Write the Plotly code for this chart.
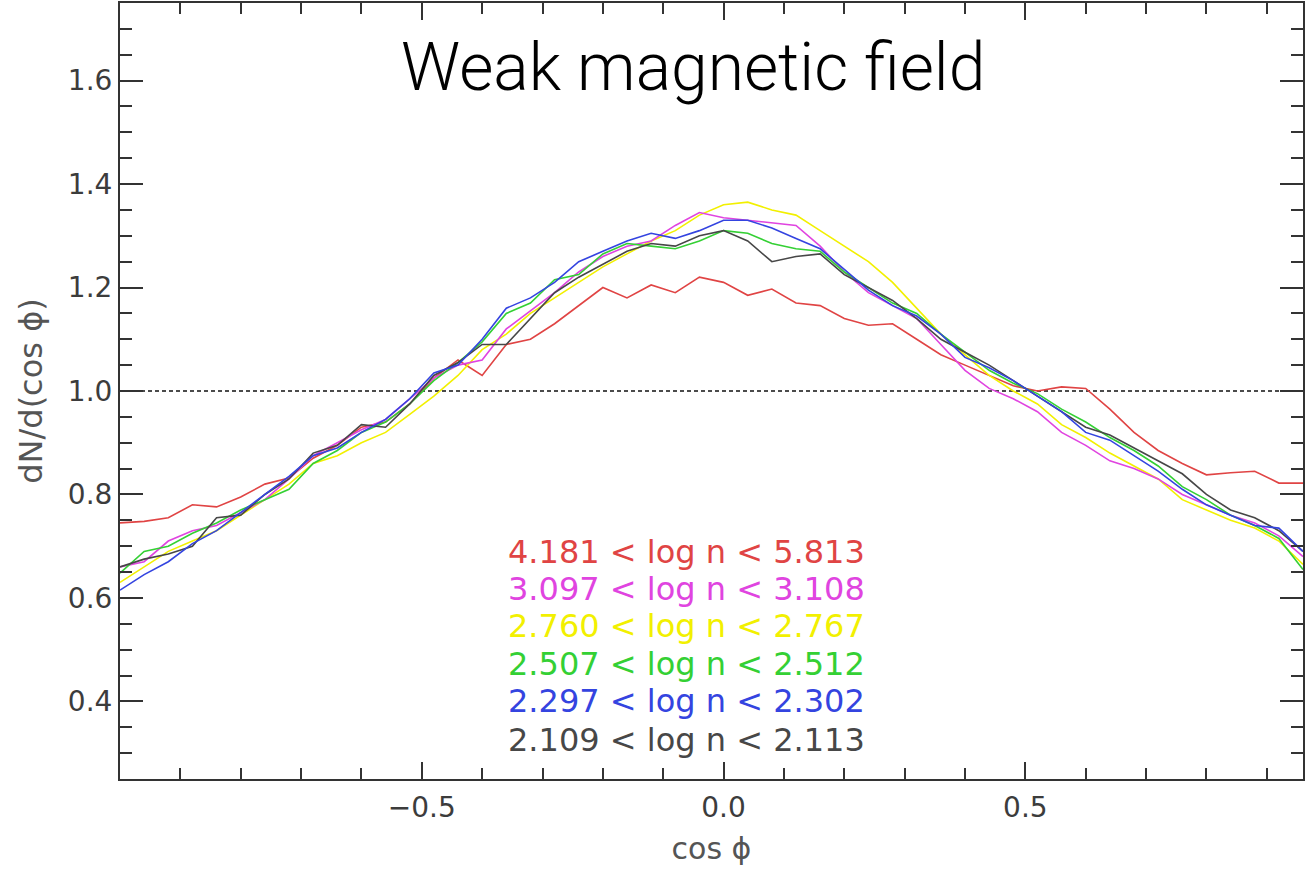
import plotly.graph_objects as go

# bin positions (cos phi)
cos_phi = [round(-1.00 + 0.04 * i, 2) for i in range(50)]

red_4181 = [0.745, 0.748, 0.755, 0.780, 0.776, 0.795, 0.820, 0.832, 0.870, 0.895,
            0.930, 0.940, 0.975, 1.025, 1.060, 1.030, 1.090, 1.100, 1.130, 1.165,
            1.200, 1.180, 1.205, 1.190, 1.220, 1.210, 1.185, 1.197, 1.170, 1.165,
            1.140, 1.127, 1.130, 1.100, 1.070, 1.050, 1.030, 1.010, 1.000, 1.008,
            1.005, 0.965, 0.920, 0.885, 0.860, 0.838, 0.842, 0.845, 0.822, 0.822]

magenta_3097 = [0.660, 0.670, 0.710, 0.730, 0.740, 0.765, 0.790, 0.830, 0.875, 0.900,
                0.925, 0.945, 0.985, 1.025, 1.050, 1.060, 1.120, 1.155, 1.190, 1.230,
                1.260, 1.280, 1.290, 1.320, 1.345, 1.335, 1.330, 1.325, 1.320, 1.280,
                1.230, 1.190, 1.165, 1.140, 1.090, 1.040, 1.005, 0.985, 0.960, 0.920,
                0.895, 0.865, 0.850, 0.830, 0.800, 0.780, 0.760, 0.745, 0.720, 0.680]

yellow_2760 = [0.630, 0.660, 0.690, 0.710, 0.730, 0.760, 0.790, 0.820, 0.860, 0.875,
               0.900, 0.920, 0.955, 0.990, 1.030, 1.080, 1.110, 1.150, 1.180, 1.210,
               1.240, 1.265, 1.290, 1.310, 1.340, 1.360, 1.365, 1.350, 1.340, 1.310,
               1.280, 1.250, 1.210, 1.160, 1.110, 1.070, 1.030, 1.000, 0.975, 0.935,
               0.910, 0.880, 0.855, 0.830, 0.790, 0.770, 0.750, 0.735, 0.710, 0.665]

green_2507 = [0.648, 0.690, 0.700, 0.725, 0.745, 0.770, 0.790, 0.810, 0.860, 0.885,
              0.920, 0.940, 0.975, 1.020, 1.055, 1.095, 1.150, 1.170, 1.215, 1.225,
              1.265, 1.285, 1.280, 1.275, 1.290, 1.310, 1.305, 1.285, 1.275, 1.270,
              1.230, 1.200, 1.170, 1.150, 1.110, 1.075, 1.040, 1.015, 0.995, 0.965,
              0.940, 0.910, 0.885, 0.855, 0.815, 0.790, 0.760, 0.740, 0.715, 0.655]

blue_2297 = [0.615, 0.645, 0.670, 0.705, 0.730, 0.765, 0.800, 0.835, 0.875, 0.890,
             0.920, 0.945, 0.985, 1.035, 1.050, 1.100, 1.160, 1.180, 1.210, 1.250,
             1.270, 1.290, 1.305, 1.295, 1.310, 1.330, 1.330, 1.315, 1.295, 1.275,
             1.235, 1.195, 1.165, 1.145, 1.110, 1.065, 1.045, 1.020, 0.990, 0.960,
             0.920, 0.905, 0.875, 0.845, 0.810, 0.780, 0.760, 0.740, 0.735, 0.690]

dark_2109 = [0.660, 0.675, 0.685, 0.700, 0.755, 0.760, 0.800, 0.830, 0.880, 0.895,
             0.935, 0.930, 0.975, 1.030, 1.055, 1.090, 1.090, 1.140, 1.190, 1.220,
             1.245, 1.270, 1.285, 1.280, 1.300, 1.310, 1.290, 1.250, 1.260, 1.265,
             1.225, 1.200, 1.175, 1.140, 1.100, 1.075, 1.050, 1.020, 0.990, 0.960,
             0.930, 0.915, 0.890, 0.865, 0.840, 0.800, 0.770, 0.755, 0.730, 0.690]

series_labels = ["4.181 &lt; log n &lt; 5.813",
                 "3.097 &lt; log n &lt; 3.108",
                 "2.760 &lt; log n &lt; 2.767",
                 "2.507 &lt; log n &lt; 2.512",
                 "2.297 &lt; log n &lt; 2.302",
                 "2.109 &lt; log n &lt; 2.113"]
series_values = [red_4181, magenta_3097, yellow_2760, green_2507, blue_2297, dark_2109]
series_colors = ["#e04444", "#e044e0", "#f2f000", "#34d034", "#3444e0", "#474747"]
label_y = [0.689, 0.617, 0.545, 0.472, 0.400, 0.326]

x_tickvals = [-0.5, 0.0, 0.5]
x_ticktext = ["\u22120.5", "0.0", "0.5"]
y_tickvals = [0.4, 0.6, 0.8, 1.0, 1.2, 1.4, 1.6]
y_ticktext = ["0.4", "0.6", "0.8", "1.0", "1.2", "1.4", "1.6"]

title_text = "Weak magnetic field"
x_title = "cos ϕ"
y_title = "dN/d(cos ϕ)"
ref_level = 1.0

FONT = "DejaVu Sans, Verdana, sans-serif"

fig = go.Figure()

fig.add_shape(type="line", xref="x", yref="y", x0=cos_phi[0], x1=0.96,
              y0=ref_level, y1=ref_level,
              line=dict(color="#111111", width=1.5, dash="4px,3px"), layer="below")

draw_order = [0, 2, 1, 3, 5, 4]
for i in draw_order:
    fig.add_trace(go.Scatter(x=cos_phi, y=series_values[i], mode="lines",
                             line=dict(color=series_colors[i], width=1.6),
                             showlegend=False, hoverinfo="skip"))

for lab, col, ly in zip(series_labels, series_colors, label_y):
    fig.add_annotation(x=-0.061, y=ly, xref="x", yref="y", text=lab, showarrow=False,
                       font=dict(family=FONT, size=32, color=col),
                       xanchor="center", yanchor="middle")

fig.add_annotation(x=-0.05, y=1.625, xref="x", yref="y", text=title_text, showarrow=False,
                   font=dict(family="Roboto, sans-serif", size=66, color="#000000", weight=300),
                   xanchor="center", yanchor="middle")

axis_common = dict(showline=True, linecolor="#333333", linewidth=2, mirror="ticks",
                   ticks="inside", tickcolor="#333333", tickwidth=2,
                   showgrid=False, zeroline=False, automargin=False,
                   tickfont=dict(family=FONT, size=28, color="#3c3c3c"))

fig.update_xaxes(**axis_common, range=[-1.0, 0.96], tickmode="array",
                 tickvals=x_tickvals, ticktext=x_ticktext,
                 ticklen=17, ticklabelstandoff=2,
                 minor=dict(tickmode="linear", dtick=0.1, tick0=0, ticklen=11,
                            tickcolor="#333333", tickwidth=2, ticks="inside", showgrid=False),
                 title=dict(text=x_title, standoff=15,
                            font=dict(family=FONT, size=30, color="#555555")))
fig.update_yaxes(**axis_common, range=[0.25, 1.75], tickmode="array",
                 tickvals=y_tickvals, ticktext=y_ticktext,
                 ticklen=23, ticklabelstandoff=0,
                 minor=dict(tickmode="linear", dtick=0.05, tick0=0, ticklen=12,
                            tickcolor="#333333", tickwidth=2, ticks="inside", showgrid=False),
                 title=dict(text=y_title, standoff=16,
                            font=dict(family=FONT, size=32, color="#555555")))

fig.update_layout(width=1313, height=871, margin=dict(l=120, r=10, t=3, b=92, autoexpand=False),
                  paper_bgcolor="white", plot_bgcolor="white", showlegend=False)

fig.write_html("out.html", config={"displayModeBar": False},
               post_script="document.body.style.margin='0px';")
